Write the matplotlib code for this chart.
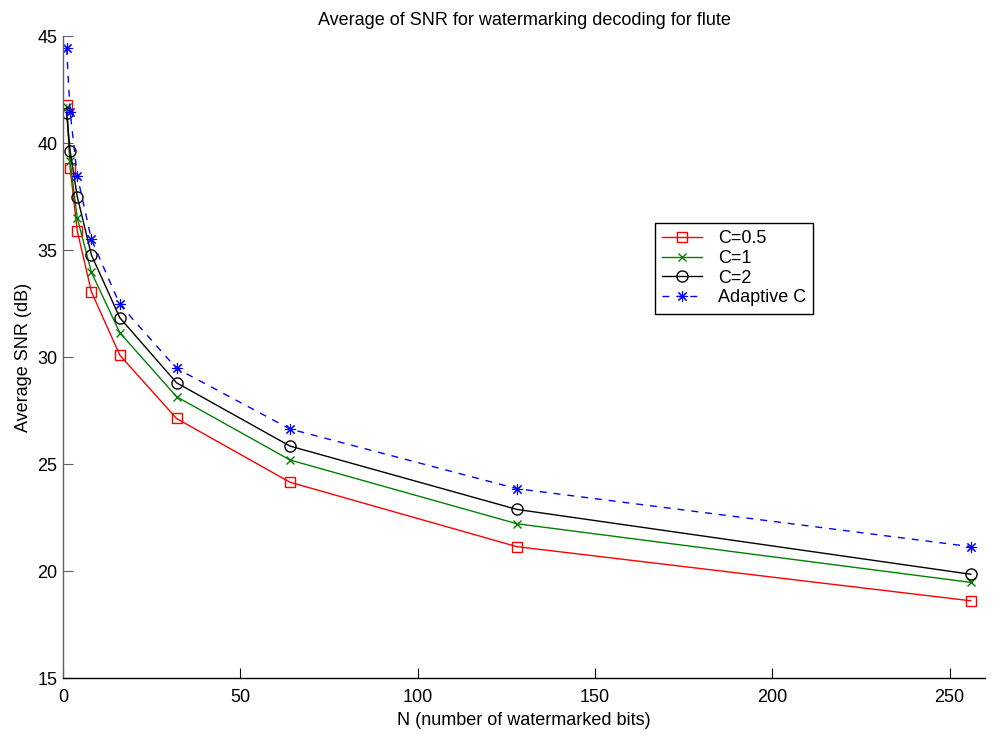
import matplotlib
matplotlib.use("Agg")
import matplotlib.pyplot as plt

plt.rcParams['font.family'] = ['Liberation Sans', 'DejaVu Sans']

N = [1, 2, 4, 8, 16, 32, 64, 128, 256]
snr_c05 = [41.78, 38.83, 35.9, 33.05, 30.09, 27.13, 24.15, 21.14, 18.61]
snr_c1 = [41.7, 39.15, 36.5, 33.96, 31.14, 28.15, 25.19, 22.21, 19.47]
snr_c2 = [41.4, 39.63, 37.5, 34.77, 31.84, 28.8, 25.84, 22.88, 19.85]
snr_adapt = [44.44, 41.45, 38.47, 35.5, 32.46, 29.47, 26.64, 23.85, 21.14]
labels = ['C=0.5', 'C=1', 'C=2', 'Adaptive C']

fig = plt.figure(figsize=(10.01, 7.37), dpi=100)
ax = fig.add_axes([0.063, 0.080, 0.921, 0.871])

ax.plot(N, snr_c05, color='#ff0000', marker='s', markersize=7, markerfacecolor='none',
        markeredgewidth=1, linewidth=1, label=labels[0])
ax.plot(N, snr_c1, color='#008000', marker='x', markersize=6, markeredgewidth=1,
        linewidth=1, label=labels[1])
ax.plot(N, snr_c2, color='#000000', marker='o', markersize=8, markerfacecolor='none',
        markeredgewidth=1, linewidth=1, label=labels[2])
ax.plot(N, snr_adapt, color='#0000ff', marker=(8, 2, 0), markersize=8, markeredgewidth=0.8,
        linewidth=1, linestyle=(0, (5, 5)), label=labels[3])

ax.set_xlim(0, 260)
ax.set_ylim(15, 45)
ax.set_xticks([0, 50, 100, 150, 200, 250])
ax.set_yticks([15, 20, 25, 30, 35, 40, 45])
ax.spines['top'].set_visible(False)
ax.spines['right'].set_visible(False)
ax.spines['left'].set_color('#606060')
ax.spines['left'].set_linewidth(1)
ax.spines['bottom'].set_linewidth(1)
ax.tick_params(axis='both', direction='in', length=7, labelsize=13)
ax.tick_params(axis='x', pad=8)
ax.tick_params(axis='y', pad=4, color='#606060')

ax.set_title('Average of SNR for watermarking decoding for flute', fontsize=13, pad=8)
ax.set_xlabel('N (number of watermarked bits)', fontsize=13, labelpad=4)
ax.set_ylabel('Average SNR (dB)', fontsize=13, labelpad=4)

leg = ax.legend(loc='upper left', bbox_to_anchor=(0.632, 0.723), fontsize=13,
                frameon=True, fancybox=False, edgecolor='black', framealpha=1,
                borderpad=0.4, labelspacing=0.15, handlelength=2.2, handletextpad=0.9)
leg.get_frame().set_linewidth(1)

fig.savefig('out.png', dpi=100)
